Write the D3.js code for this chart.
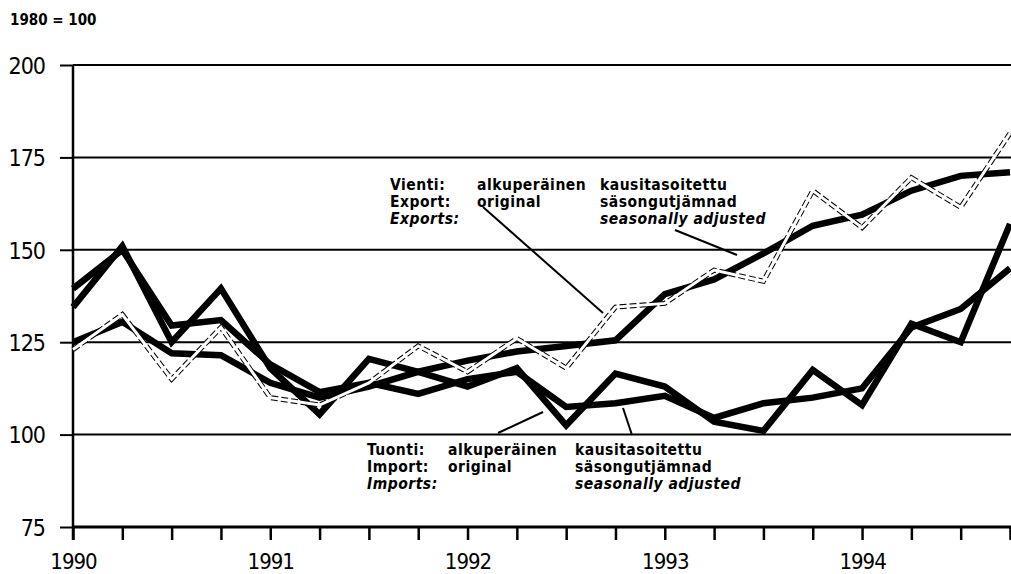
<!DOCTYPE html>
<html>
<head>
<meta charset="utf-8">
<script src="https://cdn.jsdelivr.net/npm/d3@7"></script>
<style>
  body { margin: 0; background: #fff; }
  svg { display: block; }
  text { font-family: "DejaVu Sans Condensed", "DejaVu Sans", sans-serif; font-stretch: condensed; fill: #000; }
</style>
</head>
<body>
<div id="chart"></div>
<script>
// quarterly index, 1980 = 100
const quarters = d3.range(20).map(i => 1990 + i * 0.25);
const yearLabels = ["1990", "1991", "1992", "1993", "1994"];
const yTicks = [75, 100, 125, 150, 175, 200];

const exportOrig = [123, 132.5, 115, 129, 110, 108, 114, 124, 117, 126, 118, 134.5, 135.5, 144.5, 141.5, 166, 156, 169.5, 161.5, 181.5];
const exportSA   = [125, 130.5, 122, 121.5, 114, 110, 113, 117, 120, 122.5, 124, 125.5, 138, 142, 149, 156.5, 159.5, 166, 170, 171];
const importOrig = [134.5, 151, 125, 139.5, 118, 105.5, 120.5, 117, 113, 118, 102.5, 116.5, 113, 103.5, 101, 117.5, 108, 130, 125, 157];
const importSA   = [139.5, 150, 129.5, 131, 119, 111.5, 114, 111, 115, 117, 107.5, 108.5, 110.5, 104.5, 108.5, 110, 112.5, 129, 134, 145];

const width = 1011, height = 574;

const svg = d3.select("#chart").append("svg")
  .attr("width", width)
  .attr("height", height);

const x = d3.scaleLinear().domain([1990, 1994.75]).range([73, 1010]);
const y = d3.scaleLinear().domain([75, 200]).range([527, 65]);

// gridlines
svg.append("g")
  .selectAll("line")
  .data(yTicks.filter(d => d > 75))
  .enter().append("line")
  .attr("x1", 73).attr("x2", width)
  .attr("y1", d => y(d)).attr("y2", d => y(d))
  .attr("stroke", "#000").attr("stroke-width", 2);

// y axis
const yAxis = svg.append("g")
  .attr("transform", "translate(73,0)")
  .call(d3.axisLeft(y).tickValues(yTicks).tickSize(13).tickPadding(15));
yAxis.select(".domain").remove();
yAxis.selectAll(".tick line").attr("stroke-width", 2);
yAxis.selectAll(".tick text").style("font-size", "23px").style("letter-spacing", "-1px").attr("dy", "0.36em");
svg.append("line")
  .attr("x1", 73).attr("x2", 73)
  .attr("y1", y(200)).attr("y2", y(75) + 13)
  .attr("stroke", "#000").attr("stroke-width", 2.5);

// x axis
const xAxis = svg.append("g")
  .attr("transform", `translate(0,${y(75)})`)
  .call(d3.axisBottom(x).tickValues(quarters).tickSize(13).tickPadding(13)
    .tickFormat(d => Number.isInteger(d) ? yearLabels[d - 1990] : ""));
xAxis.select(".domain").remove();
xAxis.selectAll(".tick line").attr("stroke-width", 2.5);
xAxis.selectAll(".tick text").style("font-size", "22px").style("letter-spacing", "-1px");
svg.append("line")
  .attr("x1", 73).attr("x2", width)
  .attr("y1", y(75)).attr("y2", y(75))
  .attr("stroke", "#000").attr("stroke-width", 3);

// unit label
svg.append("text")
  .attr("x", 10).attr("y", 25)
  .style("font-size", "15px").style("font-weight", "bold")
  .text("1980 = 100");

const line = d3.line()
  .x((d, i) => x(quarters[i]))
  .y(d => y(d));

function thick(data) {
  svg.append("path")
    .datum(data)
    .attr("d", line)
    .attr("fill", "none")
    .attr("stroke", "#000")
    .attr("stroke-width", 6.5);
}

thick(importSA);
thick(importOrig);
thick(exportSA);

// export original: hollow dashed line
svg.append("path")
  .datum(exportOrig)
  .attr("d", line)
  .attr("fill", "none")
  .attr("stroke", "#000")
  .attr("stroke-width", 5)
  .attr("stroke-dasharray", "7,3");
svg.append("path")
  .datum(exportOrig)
  .attr("d", line)
  .attr("fill", "none")
  .attr("stroke", "#fff")
  .attr("stroke-width", 3);

// annotations
function block(x0, y0, lines) {
  lines.forEach((l, i) => {
    svg.append("text")
      .attr("x", x0).attr("y", y0 + i * 17)
      .style("font-size", "15.5px")
      .style("font-weight", "bold")
      .style("letter-spacing", "0.5px")
      .style("font-style", l.italic ? "italic" : "normal")
      .text(l.t);
  });
}

block(390, 190, [{t: "Vienti:"}, {t: "Export:"}, {t: "Exports:", italic: true}]);
block(477, 190, [{t: "alkuperäinen"}, {t: "original"}]);
block(600, 190, [{t: "kausitasoitettu"}, {t: "säsongutjämnad"}, {t: "seasonally adjusted", italic: true}]);

block(367, 455, [{t: "Tuonti:"}, {t: "Import:"}, {t: "Imports:", italic: true}]);
block(448, 455, [{t: "alkuperäinen"}, {t: "original"}]);
block(575, 455, [{t: "kausitasoitettu"}, {t: "säsongutjämnad"}, {t: "seasonally adjusted", italic: true}]);

const leaders = [
  [483, 207, 603, 313],
  [675, 230, 737, 255],
  [498, 433, 543, 412],
  [623, 408, 632, 435]
];
svg.append("g").selectAll("line")
  .data(leaders)
  .enter().append("line")
  .attr("x1", d => d[0]).attr("y1", d => d[1])
  .attr("x2", d => d[2]).attr("y2", d => d[3])
  .attr("stroke", "#000").attr("stroke-width", 2);
</script>
</body>
</html>
